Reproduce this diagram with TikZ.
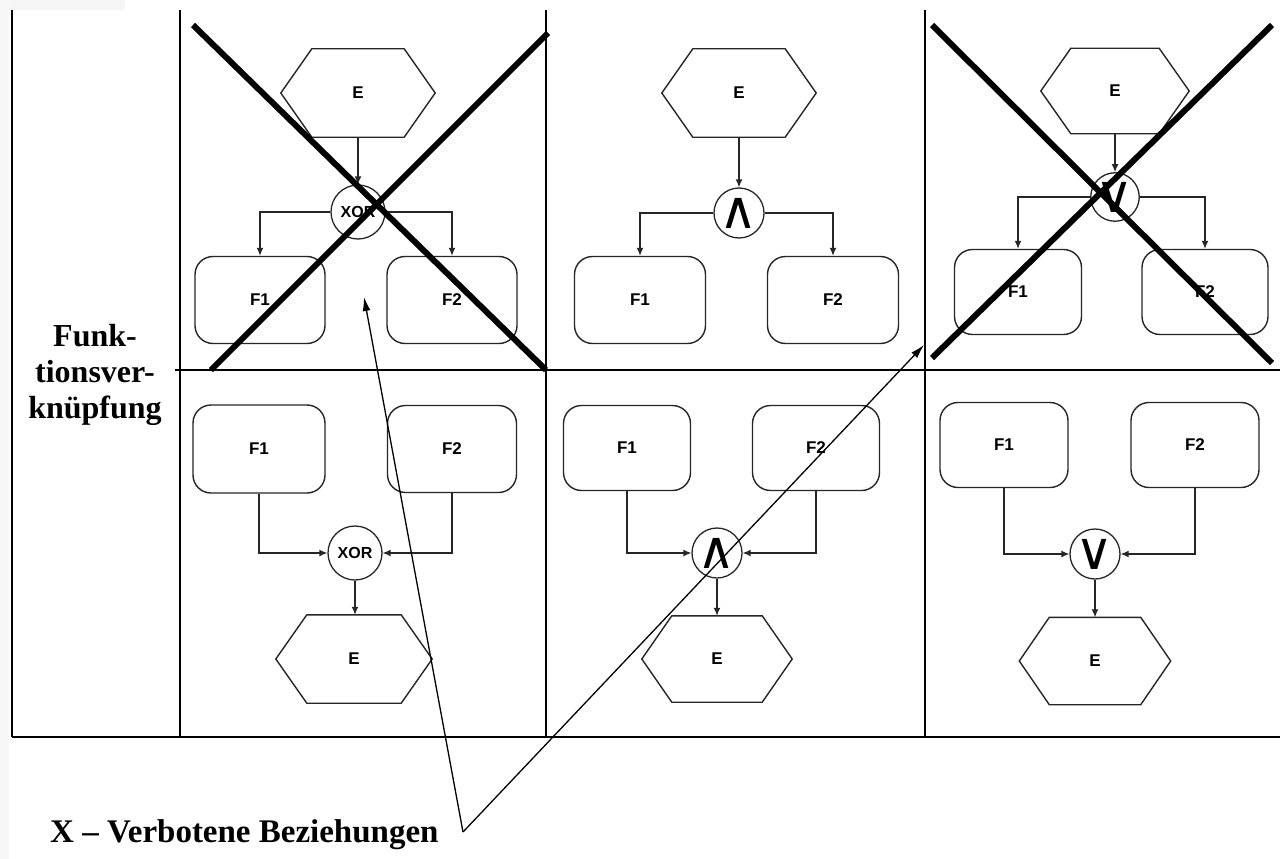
\documentclass[tikz,border=0pt]{standalone}
\usepackage{fontspec}
\setmainfont{Liberation Serif}
\newfontfamily\arialf{Liberation Sans}
\newfontfamily\djv{DejaVu Sans}
\usetikzlibrary{arrows.meta}
\newcommand\hexoutline[2]{%
  \draw[hexline] (#1.west) -- ([xshift=#2]#1.north west) -- ([xshift=-#2]#1.north east) -- (#1.east) -- ([xshift=-#2]#1.south east) -- ([xshift=#2]#1.south west) -- cycle;}
\begin{document}
\begin{tikzpicture}[x=1pt,y=-1pt,
  grid/.style={line width=1.8pt, black},
  fbox/.style={draw=black!85, line width=1.4pt, rounded corners=18pt, minimum width=130pt, minimum height=87pt, inner sep=0pt, font=\arialf\bfseries\fontsize{17}{17}\selectfont},
  hexn/.style={minimum width=154pt, minimum height=88pt, inner sep=0pt, font=\arialf\bfseries\fontsize{17}{17}\selectfont},
  hexline/.style={draw=black!85, line width=1.4pt},
  gate/.style={draw=black!85, circle, line width=1.3pt, inner sep=0pt, minimum size=52pt, font=\arialf\bfseries\fontsize{16}{16}\selectfont},
  sym/.style={font=\djv\fontsize{52}{52}\selectfont},
  conn/.style={draw=black!85, line width=1.3pt, -{Latex[length=8pt,width=7pt]}},
  cross/.style={line width=6pt, black},
  pointer/.style={line width=1.3pt, -{Latex[length=14pt,width=8pt]}},
  lbl/.style={font=\bfseries\fontsize{32}{36}\selectfont, align=center, inner sep=0pt}
]
\fill[white] (0,0) rectangle (1280,859);
\useasboundingbox (0,0) rectangle (1280,859);
\fill[gray!8] (0,0) rectangle (125,10);
\fill[gray!6] (0,0) rectangle (9,859);

% table
\draw[grid] (12,10) -- (12,737);
\draw[grid] (180,10) -- (180,737);
\draw[grid] (546,10) -- (546,737);
\draw[grid] (925,10) -- (925,737);
\draw[grid] (175,370) -- (1280,370);
\draw[grid] (12,737) -- (1280,737);

% top-left (XOR split)
\node[hexn] (a1) at (358,93) {E}; \hexoutline{a1}{31}
\node[gate, minimum size=54pt] (ag) at (358,212) {XOR};
\node[fbox] (af1) at (260,300) {F1};
\node[fbox] (af2) at (452,300) {F2};
\draw[conn] (a1.south) -- (ag.north);
\draw[conn] (ag.west) -| (af1.north);
\draw[conn] (ag.east) -| (af2.north);

% top-middle (AND split)
\node[hexn] (b1) at (739,93) {E}; \hexoutline{b1}{31}
\node[gate, minimum size=50pt, sym] (bg) at (739,213) {∧};
\node[fbox, minimum width=131pt] (bf1) at (640,300) {F1};
\node[fbox, minimum width=131pt] (bf2) at (833,300) {F2};
\draw[conn] (b1.south) -- (bg.north);
\draw[conn] (bg.west) -| (bf1.north);
\draw[conn] (bg.east) -| (bf2.north);

% top-right (OR split)
\node[hexn, minimum width=148pt, minimum height=85pt] (c1) at (1115,91) {E}; \hexoutline{c1}{30}
\node[gate, minimum size=48pt, sym] (cg) at (1115,197) {∨};
\node[fbox, minimum width=127pt, minimum height=85pt] (cf1) at (1018,292) {F1};
\node[fbox, minimum width=126pt, minimum height=85pt] (cf2) at (1205,292) {F2};
\draw[conn] (c1.south) -- (cg.north);
\draw[conn] (cg.west) -| (cf1.north);
\draw[conn] (cg.east) -| (cf2.north);

% bottom-left (XOR join)
\node[fbox, minimum width=132pt, minimum height=88pt] (df1) at (259,449) {F1};
\node[fbox, minimum width=129pt, minimum height=87pt] (df2) at (452,449) {F2};
\node[gate, minimum size=54pt] (dg) at (355,553) {XOR};
\node[hexn, minimum width=156pt] (d1) at (354,659) {E}; \hexoutline{d1}{31}
\draw[conn] (df1.south) |- (dg.west);
\draw[conn] (df2.south) |- (dg.east);
\draw[conn] (dg.south) -- (dg.south |- d1.north);

% bottom-middle (AND join)
\node[fbox, minimum width=127pt, minimum height=85pt] (ef1) at (627,448) {F1};
\node[fbox, minimum width=127pt, minimum height=85pt] (ef2) at (816,448) {F2};
\node[gate, minimum size=50pt, sym] (eg) at (717,553) {∧};
\node[hexn, minimum width=150pt, minimum height=86pt] (e1) at (717,659) {E}; \hexoutline{e1}{30}
\draw[conn] (ef1.south) |- (eg.west);
\draw[conn] (ef2.south) |- (eg.east);
\draw[conn] (eg.south) -- (e1.north);

% bottom-right (OR join)
\node[fbox, minimum width=128pt, minimum height=85pt] (ff1) at (1004,445) {F1};
\node[fbox, minimum width=128pt, minimum height=85pt] (ff2) at (1195,445) {F2};
\node[gate, minimum size=50pt, sym] (fg) at (1095,554) {∨};
\node[hexn, minimum width=151pt, minimum height=87pt] (f1) at (1095,661) {E}; \hexoutline{f1}{30}
\draw[conn] (ff1.south) |- (fg.west);
\draw[conn] (ff2.south) |- (fg.east);
\draw[conn] (fg.south) -- (f1.north);

% crosses
\draw[cross] (193,25) -- (546,370);
\draw[cross] (211,370) -- (548,33);
\draw[cross] (932,25) -- (1272,363);
\draw[cross] (932,358) -- (1272,25);

% labels
\node[lbl, anchor=base] (lab) at (95,418) {Funk-\\tionsver-\\knüpfung};
\node[lbl, anchor=base west, font=\bfseries\fontsize{33}{36}\selectfont] (leg) at (50,842) {X – Verbotene Beziehungen};

% pointers
\coordinate (v) at (463,832);
\coordinate (p1) at (364,297);
\coordinate (p2) at (924,345);
\draw[pointer] (v) -- (p1);
\draw[pointer] (v) -- (p2);
\end{tikzpicture}
\end{document}
